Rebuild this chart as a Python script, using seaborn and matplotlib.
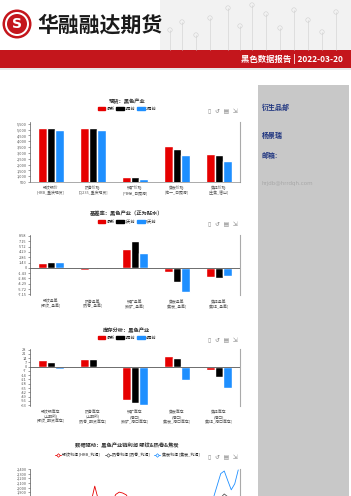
import numpy as np
import pandas as pd
import matplotlib
matplotlib.use("Agg")
import matplotlib.pyplot as plt
import seaborn as sns
from matplotlib.patches import Rectangle, Circle
from matplotlib.lines import Line2D
from matplotlib.ticker import FixedLocator

# ---------------- data ----------------
spot_cats = ["螺纹钢价\n[HRB_重庆现货]", "热卷价格\n[Q235_重庆现货]", "铁矿价格\n[PB粉_日照港]",
             "焦炭价格\n[准一_日照港]", "焦煤价格\n[主焦_唐山]"]
spot_series = ["最新", "1周前", "2周前"]
spot_latest = [5100, 5100, 940, 3580, 2920]
spot_1w = [5100, 5100, 950, 3360, 2830]
spot_2w = [4950, 4950, 750, 2780, 2300]
spot_ticks = [500, 1000, 1500, 2000, 2500, 3000, 3500, 4000, 4500, 5000, 5500]

basis_cats = ["螺纹基差\n[螺纹_基差]", "热卷基差\n[热卷_基差]", "铁矿基差\n[铁矿_基差]",
              "焦炭基差\n[焦炭_基差]", "焦煤基差\n[焦煤_基差]"]
basis_series = ["最新", "1天前", "5天前"]
basis_latest = [1.2, -0.6, 5.1, -1.2, -2.4]
basis_1d = [1.7, -0.4, 7.3, -3.7, -2.7]
basis_5d = [1.7, 0.3, 3.9, -6.5, -2.2]
basis_ticks = [-7.15, -5.72, -4.29, -2.86, -1.43, 0, 1.43, 2.86, 4.29, 5.72, 7.15, 8.58]

inv_cats = ["螺纹钢库存\n(上期所)\n[螺纹_期货库存]", "热卷库存\n(上期所)\n[热卷_期货库存]",
            "铁矿库存\n(港口)\n[铁矿_港口库存]", "焦炭库存\n(港口)\n[焦炭_港口库存]",
            "焦煤库存\n(港口)\n[焦煤_港口库存]"]
inv_series = ["最新", "1周前", "4周前"]
inv_latest = [10.7, 12.8, -55, 17.2, -5.3]
inv_1w = [7.5, 12.8, -60, 15, -17]
inv_4w = [-4.2, 0.3, -62.6, -21.8, -34.7]
inv_ticks = [-63, -56, -49, -42, -35, -28, -21, -14, -7, 0, 7, 14, 21, 28]

profit_names = ["螺纹利润 [HRB_利润]", "热卷利润 [热卷_利润]", "焦炭利润 [焦炭_利润]"]
profit_rebar = [1350, 1420, 1380, 1300, 1250, 1320, 1400, 1460, 1500, 1430, 1380, 1450, 1520, 1580, 1600,
                1550, 1620, 1700, 2030, 1740, 1600, 1560, 1620, 1700, 1850, 1900, 1880, 1840, 1720, 1650,
                1580, 1500, 1460, 1420, 1380, 1350, 1300, 1280, 1320, 1360, 1400, 1380, 1340, 1300, 1260,
                1230, 1200, 1250, 1300, 1350, 1420, 1480, 1520, 1560, 1600, 1640, 1620, 1580, 1560, 1600]
profit_coil = [1100, 1150, 1120, 1080, 1050, 1100, 1160, 1200, 1240, 1210, 1180, 1220, 1260, 1300, 1320,
               1290, 1330, 1380, 1450, 1400, 1350, 1320, 1360, 1400, 1480, 1500, 1470, 1440, 1380, 1340,
               1300, 1260, 1230, 1200, 1180, 1150, 1120, 1100, 1130, 1160, 1190, 1170, 1150, 1120, 1100,
               1080, 1060, 1090, 1130, 1180, 1240, 1300, 1400, 1600, 1780, 1860, 1800, 1700, 1650, 1720]
profit_coke = [900, 950, 1000, 1050, 1020, 980, 950, 1000, 1080, 1150, 1200, 1180, 1130, 1100, 1150,
               1220, 1280, 1300, 1260, 1220, 1180, 1150, 1120, 1100, 1080, 1050, 1020, 1000, 980, 1010,
               1050, 1100, 1150, 1200, 1250, 1300, 1350, 1320, 1280, 1250, 1300, 1380, 1450, 1500, 1550,
               1600, 1620, 1650, 1680, 1700, 1720, 1760, 1800, 2050, 2300, 2357, 2150, 1950, 2080, 2380]
profit_ticks = [1900, 2000, 2100, 2200, 2300, 2400]

RED, BLACK, BLUE = "#e60000", "#000000", "#1e8fff"

# ---------------- figure ----------------
sns.set_theme(style="white")
plt.rcParams['font.family'] = ['Noto Sans CJK SC', 'DejaVu Sans']
plt.rcParams['axes.unicode_minus'] = False

W, H = 351, 496
fig = plt.figure(figsize=(W / 100, H / 100), dpi=100)
fig.patch.set_facecolor('white')


def fx(x):
    return x / W


def fy(y):
    return 1 - y / H


bg = fig.add_axes([0, 0, 1, 1], zorder=0)
bg.set_xlim(0, W)
bg.set_ylim(H, 0)
bg.axis('off')

# header decoration
bg.add_patch(Rectangle((160, 0), 191, 50, color="#f2f2f2", lw=0))
for xx, top in [(170, 30), (182, 22), (196, 35), (210, 18), (228, 8), (240, 26), (252, 5), (266, 14),
                (280, 28), (294, 10), (308, 20), (322, 32), (336, 12)]:
    bg.plot([xx, xx], [top, 50], color="#cfcfcf", lw=0.4)
    bg.add_patch(Circle((xx, top), 2.2, fill=False, ec="#d0d0d0", lw=0.4))

# logo
bg.add_patch(Circle((17, 24), 14.5, color="#c4161c", lw=0))
bg.add_patch(Circle((17, 24), 12, color="white", lw=0))
bg.add_patch(Circle((17, 24), 10, color="#c4161c", lw=0))
bg.text(17, 24.5, "S", color="white", fontsize=10, fontweight="bold", ha="center", va="center",
        family=["DejaVu Sans"])
bg.text(37, 25, "华融融达期货", fontsize=15, fontweight="bold", color="#1a1a1a", ha="left", va="center")

# red bar
bg.add_patch(Rectangle((0, 50), W, 18, color="#c4161c", lw=0))
bg.add_patch(Rectangle((0, 68), W, 2, color="#e8e8e8", lw=0))
bg.text(343, 59.5, "黑色数据报告 | 2022-03-20", color="white", fontsize=6, fontweight="bold",
        ha="right", va="center")

# right gray panel
bg.add_patch(Rectangle((258, 85), 91, 411, color="#c8c8c8", lw=0))
bg.text(262, 107, "衍生品部", fontsize=5, fontweight="bold", color="#1f3580", va="center")
bg.text(262, 135, "杨景瑞", fontsize=5, fontweight="bold", color="#1f3580", va="center")
bg.text(262, 155, "邮箱:", fontsize=5, fontweight="bold", color="#1f3580", va="center")
bg.text(262, 183, "hrjdb@hrrdqh.com", fontsize=4, color="#a8a8a8", va="center", family=["DejaVu Sans"])


def toolbox(y):
    bg.text(238, y, "▯  ↺  ▤  ⇲", fontsize=4.2, color="#888888", ha="right", va="center",
            family=["DejaVu Sans"])


def style_axes(ax, ticks, fmt, bottom_spine):
    ax.set_facecolor("none")
    ax.spines["top"].set_visible(False)
    ax.spines["left"].set_color("#555555")
    ax.spines["left"].set_linewidth(0.5)
    ax.spines["right"].set_color("#aaaaaa")
    ax.spines["right"].set_linewidth(0.8)
    ax.spines["bottom"].set_visible(bottom_spine)
    ax.spines["bottom"].set_color("#888888")
    ax.spines["bottom"].set_linewidth(0.5)
    ax.yaxis.set_major_locator(FixedLocator(ticks))
    ax.set_yticklabels([fmt(t) for t in ticks])
    ax.tick_params(axis="y", which="major", labelsize=2.8, length=1.5, width=0.4, pad=1,
                   colors="#555555", left=True)
    ax.tick_params(axis="x", labelsize=2.8, length=0, pad=3, colors="#555555")
    ax.set_xlabel("")
    ax.set_ylabel("")


def bar_chart(top, bottom, cats, names, vals, ylim, ticks, fmt, title, title_y, leg_y, zero_line):
    rect = [fx(30), fy(bottom), fx(240) - fx(30), (bottom - top) / H]
    ax = fig.add_axes(rect, zorder=2)
    df = pd.DataFrame({
        "cat": [c for _ in names for c in cats],
        "series": [n for n in names for _ in cats],
        "val": [v for vs in vals for v in vs],
    })
    sns.barplot(data=df, x="cat", y="val", hue="series", order=cats, hue_order=names,
                palette=[RED, BLACK, BLUE], width=0.6, saturation=1, errorbar=None,
                legend=False, ax=ax)
    ax.set_ylim(*ylim)
    ax.set_xlim(-0.5, len(cats) - 0.5)
    if zero_line:
        ax.axhline(0, color="#555555", lw=0.6, zorder=3)
    style_axes(ax, ticks, fmt, not zero_line)
    for lab in ax.get_xticklabels():
        lab.set_linespacing(1.1)
    fig.text(fx(127), fy(title_y), title, fontsize=3.8, fontweight="bold", color="#333333",
             ha="center", va="center")
    handles = [Rectangle((0, 0), 1, 1, color=c) for c in [RED, BLACK, BLUE]]
    fig.legend(handles, names, loc="center", bbox_to_anchor=(fx(127), fy(leg_y)), ncol=3,
               fontsize=3, frameon=False, handlelength=1.8, handleheight=0.9, columnspacing=0.4,
               handletextpad=0.3, borderpad=0)
    toolbox(leg_y + 2.5)
    return ax


bar_chart(122, 182, spot_cats, spot_series, [spot_latest, spot_1w, spot_2w], (500, 5650),
          spot_ticks, lambda t: f"{t:,}", "现货：黑色产业", 101, 109, False)
bar_chart(235.5, 295, basis_cats, basis_series, [basis_latest, basis_1d, basis_5d], (-7.3, 8.7),
          basis_ticks, lambda t: "0" if t == 0 else f"{t:.2f}", "基差率：黑色产业（正为贴水）", 213, 222, True)
bar_chart(349, 405.7, inv_cats, inv_series, [inv_latest, inv_1w, inv_4w], (-64, 29),
          inv_ticks, lambda t: f"{t}", "库存分析：黑色产业", 330, 338, True)

# line chart (partially visible)
ax4 = fig.add_axes([fx(30), fy(580), fx(240) - fx(30), (580 - 469) / H], zorder=2)
n = len(profit_rebar)
df4 = pd.DataFrame({
    "idx": list(range(n)) * 3,
    "series": [profit_names[0]] * n + [profit_names[1]] * n + [profit_names[2]] * n,
    "val": profit_rebar + profit_coil + profit_coke,
})
sns.lineplot(data=df4, x="idx", y="val", hue="series", hue_order=profit_names,
             palette=[RED, "#555555", BLUE], linewidth=0.6, legend=False, ax=ax4)
ax4.set_xlim(-0.5, n - 0.5)
ax4.set_ylim(0, 2400)
style_axes(ax4, profit_ticks, lambda t: f"{t:,}", True)
ax4.set_xticks([])
fig.text(fx(127), fy(445), "数据驱动：黑色产业链利润 螺纹&热卷&焦炭", fontsize=3.8, fontweight="bold",
         color="#333333", ha="center", va="center")
lh = [Line2D([0], [0], color=c, lw=0.6, marker="D", markersize=1.8, markerfacecolor="white",
             markeredgewidth=0.5) for c in [RED, "#555555", BLUE]]
fig.legend(lh, profit_names, loc="center", bbox_to_anchor=(fx(127), fy(455)), ncol=3, fontsize=2.9,
           frameon=False, handlelength=1.5, columnspacing=1.2, handletextpad=0.3, borderpad=0)
toolbox(457)

fig.savefig("out.png", dpi=100)
